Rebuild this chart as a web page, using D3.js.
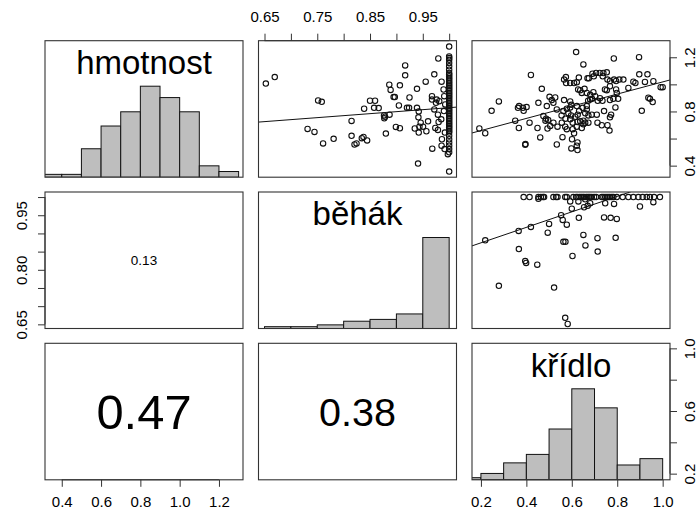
<!DOCTYPE html>
<html>
<head>
<meta charset="utf-8">
<script src="https://cdn.jsdelivr.net/npm/d3@7"></script>
<style>
  body { margin: 0; background: #fff; }
  text { font-family: "Liberation Sans", Arial, sans-serif; fill: #000; }
</style>
</head>
<body>
<div id="chart"></div>
<script>
// ---- data ----
var varNames = ["hmotnost", "běhák", "křídlo"];
var varRanges = [[0.352, 1.285], [0.6525, 1.0], [0.193, 1.0]];

var histBreaks = [
  [0.3, 0.4, 0.5, 0.6, 0.7, 0.8, 0.9, 1.0, 1.1, 1.2, 1.3],
  [0.65, 0.70, 0.75, 0.80, 0.85, 0.90, 0.95, 1.00],
  [0.1, 0.2, 0.3, 0.4, 0.5, 0.6, 0.7, 0.8, 0.9, 1.0]
];
var histCounts = [
  [1, 1, 10, 18, 23, 32, 28, 23, 4, 2],
  [2, 2, 4, 8, 10, 16, 100],
  [1, 3, 8, 12, 24, 43, 34, 7, 10]
];

// tick positions and which of them carry a label
var ticksHmotnost = [0.4, 0.6, 0.8, 1.0, 1.2];
var ticksBehak = [0.65, 0.70, 0.75, 0.80, 0.85, 0.90, 0.95, 1.00];
var ticksKridlo = [0.2, 0.4, 0.6, 0.8, 1.0];
var labelsHmotnostBottom = ["0.4", "0.6", "0.8", "1.0", "1.2"];
var labelsHmotnostRight = ["0.4", "0.8", "1.2"];
var labelsBehakTop = ["0.65", "0.75", "0.85", "0.95"];
var labelsBehakLeft = ["0.65", "0.80", "0.95"];
var labelsKridloBottom = ["0.2", "0.4", "0.6", "0.8", "1.0"];
var labelsKridloRight = ["0.2", "0.6", "1.0"];

// correlations shown in the lower panels
var corLabels = ["0.13", "0.47", "0.38"];

// lm fits [intercept, slope]: hmotnost~běhák, hmotnost~křídlo, běhák~křídlo
var fitLines = [[0.5335, 0.2944], [0.569, 0.449], [0.8315, 0.213]];

// x = běhák, y = hmotnost
var ptsBehakHmot = [
  [0.6525,1.006],[0.6694,1.054],[0.7516,0.881],[0.7585,0.871],[0.7316,0.671],[0.7447,0.649],
  [0.761,0.564],[0.781,0.598],[0.815,0.730],[0.815,0.620],[0.8206,0.556],[0.8244,0.564],
  [0.8344,0.603],[0.8376,0.612],[0.8445,0.586],[0.8388,0.820],[0.850,0.879],[0.8595,0.879],
  [0.8577,0.827],[0.8664,0.825],[0.8765,0.771],[0.877,0.749],[0.8784,0.761],[0.887,0.776],
  [0.880,0.637],[0.899,0.686],[0.9066,0.676],[0.8865,0.998],[0.889,0.959],[0.8947,0.906],
  [0.897,0.906],[0.9066,0.993],[0.9166,1.140],[0.9166,1.067],[0.9047,0.844],[0.920,0.827],
  [0.924,0.827],[0.9248,0.903],[0.939,0.967],[0.939,0.827],[0.9423,0.800],[0.9417,0.757],
  [0.946,0.717],[0.9348,0.674],[0.9423,0.644],[0.9436,0.688],[0.9505,0.688],[0.9568,0.654],
  [0.960,0.727],[0.941,0.415],[0.9555,1.020],[0.9718,1.074],[0.9794,1.191],[0.9674,0.913],
  [0.9674,0.888],[0.9718,0.815],[0.975,0.864],[0.9787,0.776],[0.9762,0.888],[0.9812,0.876],
  [0.9856,1.020],[0.980,0.722],[0.9737,0.678],[0.9787,0.664],[0.968,0.525],[0.985,0.742],
  [0.9863,0.595],[0.9856,0.547],[0.9913,0.522],[0.9919,0.644],[0.9894,0.962],[0.9906,0.913],
  [0.9925,0.852],[0.99,0.803],[0.9975,0.485],
  [1,1.279],[1,1.206],[1,1.194],[1,1.181],[1,1.157],[1,1.133],[1,1.108],[1,1.084],[1,1.072],
  [1,1.059],[1,1.047],[1,1.035],[1,1.022],[1,1.010],[1,0.998],[1,0.986],[1,0.974],[1,0.962],
  [1,0.950],[1,0.937],[1,0.925],[1,0.913],[1,0.901],[1,0.888],[1,0.876],[1,0.864],[1,0.852],
  [1,0.840],[1,0.827],[1,0.815],[1,0.803],[1,0.791],[1,0.779],[1,0.766],[1,0.754],[1,0.742],
  [1,0.730],[1,0.717],[1,0.705],[1,0.693],[1,0.681],[1,0.669],[1,0.656],[1,0.644],[1,0.620],
  [1,0.595],[1,0.571],[1,0.547],[1,0.522],[1,0.498],[1,0.356]
];

// x = křídlo, y = hmotnost
var ptsKridloHmot = [
  [0.619,1.238],[0.785,1.191],[0.896,1.201],[0.651,1.147],[0.420,1.069],[0.574,1.054],
  [0.566,1.035],[0.631,1.050],[0.669,1.045],[0.675,1.045],[0.691,1.079],[0.707,1.084],
  [0.723,1.084],[0.739,1.084],[0.754,1.089],[0.697,1.059],[0.736,1.059],[0.757,1.035],
  [0.768,1.025],[0.786,1.035],[0.795,1.025],[0.809,1.035],[0.827,1.035],[0.871,1.020],
  [0.897,1.074],[0.933,1.074],[0.922,1.018],[0.959,1.023],[0.991,0.979],[1.000,0.979],
  [0.849,0.974],[0.880,1.010],[0.575,1.010],[0.593,1.010],[0.610,1.010],[0.622,1.015],
  [0.628,0.962],[0.637,0.957],[0.656,0.967],[0.644,0.937],[0.666,0.937],[0.681,0.923],
  [0.695,0.942],[0.672,0.879],[0.681,0.888],[0.689,0.893],[0.703,0.913],[0.714,0.879],
  [0.735,0.879],[0.724,0.898],[0.746,0.962],[0.754,0.957],[0.768,0.986],[0.795,0.962],
  [0.798,0.937],[0.783,0.893],[0.768,0.884],[0.468,0.967],[0.512,0.884],[0.502,0.908],
  [0.527,0.903],[0.519,0.864],[0.566,0.884],[0.593,0.874],[0.598,0.849],[0.593,0.830],
  [0.622,0.840],[0.648,0.827],[0.666,0.840],[0.666,0.815],[0.279,0.874],[0.247,0.805],
  [0.368,0.840],[0.363,0.827],[0.385,0.827],[0.388,0.805],[0.401,0.832],[0.453,0.864],
  [0.490,0.840],[0.534,0.815],[0.563,0.803],[0.578,0.820],[0.585,0.786],[0.597,0.771],
  [0.555,0.771],[0.572,0.747],[0.615,0.761],[0.626,0.776],[0.632,0.803],[0.659,0.786],
  [0.673,0.771],[0.688,0.776],[0.710,0.776],[0.742,0.803],[0.773,0.776],[0.768,0.757],
  [0.792,0.830],[0.804,0.893],[0.937,0.901],[0.944,0.893],[0.956,0.869],[0.908,0.805],
  [0.351,0.732],[0.414,0.717],[0.475,0.766],[0.487,0.747],[0.484,0.732],[0.496,0.737],
  [0.505,0.693],[0.519,0.717],[0.556,0.717],[0.537,0.688],[0.571,0.688],[0.593,0.742],
  [0.604,0.717],[0.578,0.669],[0.622,0.688],[0.625,0.722],[0.637,0.727],[0.651,0.732],
  [0.659,0.717],[0.673,0.717],[0.713,0.717],[0.732,0.698],[0.757,0.698],[0.766,0.659],
  [0.644,0.678],[0.651,0.705],[0.367,0.678],[0.449,0.678],[0.493,0.674],[0.193,0.674],
  [0.219,0.639],[0.461,0.608],[0.534,0.556],[0.559,0.610],[0.604,0.669],[0.610,0.639],
  [0.601,0.595],[0.625,0.571],[0.622,0.547],[0.598,0.527],[0.625,0.515],[0.396,0.559],
  [0.395,0.554]
];

// x = křídlo, y = běhák
var ptsKridloBehak = [
  [0.388,1],[0.414,1],[0.453,1],[0.464,1],[0.473,1],[0.478,1],[0.519,1],[0.531,1],[0.537,1],
  [0.571,1],[0.578,1],[0.607,1],[0.619,1],[0.625,1],[0.634,1],[0.641,1],[0.648,1],[0.654,1],
  [0.663,1],[0.669,1],[0.675,1],[0.681,1],[0.688,1],[0.698,1],[0.707,1],[0.732,1],[0.739,1],
  [0.747,1],[0.754,1],[0.761,1],[0.768,1],[0.776,1],[0.783,1],[0.798,1],[0.824,1],[0.849,1],
  [0.871,1],[0.893,1],[0.912,1],[0.930,1],[0.944,1],[0.962,1],[0.988,1],
  [0.453,0.995],[0.593,0.988],[0.629,0.988],[0.659,0.994],[0.681,0.983],[0.747,0.983],
  [0.786,0.981],[0.959,0.986],[0.654,0.972],[0.600,0.968],[0.900,0.974],[0.670,0.976],
  [0.742,0.944],[0.771,0.943],[0.798,0.940],[0.553,0.950],[0.560,0.937],[0.578,0.924],
  [0.631,0.943],[0.500,0.926],[0.420,0.918],[0.366,0.907],[0.219,0.881],[0.494,0.902],
  [0.651,0.896],[0.713,0.887],[0.793,0.888],[0.563,0.877],[0.572,0.877],[0.660,0.867],
  [0.367,0.857],[0.714,0.850],[0.603,0.838],[0.395,0.824],[0.399,0.819],[0.448,0.814],
  [0.279,0.756],[0.522,0.751],[0.571,0.668],[0.582,0.651]
];

// ---- layout ----
var svgWidth = 698;
var svgHeight = 511;
var panelX = [45, 258.5, 472];
var panelY = [40.7, 192, 343.3];
var panelW = 198;
var panelH = 136.5;

var svg = d3.select("#chart")
  .append("svg")
  .attr("width", svgWidth)
  .attr("height", svgHeight);

// one x scale and one y scale per variable, padded 4% like R
function padded(r) {
  var p = (r[1] - r[0]) * 0.04;
  return [r[0] - p, r[1] + p];
}
var xScales = varRanges.map(function(r) {
  return d3.scaleLinear().domain(padded(r)).range([0, panelW]);
});
var yScales = varRanges.map(function(r) {
  return d3.scaleLinear().domain(padded(r)).range([panelH, 0]);
});

function makePanel(i, j) {
  var g = svg.append("g")
    .attr("transform", `translate(${panelX[j]}, ${panelY[i]})`);
  g.append("clipPath")
    .attr("id", `clip-${i}-${j}`)
    .append("rect")
    .attr("width", panelW)
    .attr("height", panelH);
  var inner = g.append("g").attr("clip-path", `url(#clip-${i}-${j})`);
  return { g: g, inner: inner };
}

function drawBox(g) {
  g.append("rect")
    .attr("width", panelW)
    .attr("height", panelH)
    .attr("fill", "none")
    .attr("stroke", "#333")
    .attr("stroke-width", 1.1);
}

// ---- diagonal: histograms + names ----
varNames.forEach(function(name, k) {
  var p = makePanel(k, k);
  var x = xScales[k];
  var hy = d3.scaleLinear().domain([0, 1.5]).range([panelH, 0]);
  var maxC = d3.max(histCounts[k]);
  var bins = histCounts[k].map(function(c, b) {
    return { x0: histBreaks[k][b], x1: histBreaks[k][b + 1], c: c / maxC };
  });
  p.inner.selectAll("rect.bar")
    .data(bins)
    .enter()
    .append("rect")
    .attr("class", "bar")
    .attr("x", d => x(d.x0))
    .attr("width", d => x(d.x1) - x(d.x0))
    .attr("y", d => hy(d.c))
    .attr("height", d => hy(0) - hy(d.c))
    .attr("fill", "#bebebe")
    .attr("stroke", "#111")
    .attr("stroke-width", 1);
  p.g.append("text")
    .attr("x", panelW / 2)
    .attr("y", 33.3)
    .attr("text-anchor", "middle")
    .style("font-size", "33px")
    .text(name);
  drawBox(p.g);
});

// ---- upper: scatter + lm line ----
var upper = [
  { i: 0, j: 1, pts: ptsBehakHmot, fit: fitLines[0] },
  { i: 0, j: 2, pts: ptsKridloHmot, fit: fitLines[1] },
  { i: 1, j: 2, pts: ptsKridloBehak, fit: fitLines[2] }
];
upper.forEach(function(u) {
  var p = makePanel(u.i, u.j);
  var x = xScales[u.j];
  var y = yScales[u.i];
  p.inner.selectAll("circle")
    .data(u.pts)
    .enter()
    .append("circle")
    .attr("cx", d => x(d[0]))
    .attr("cy", d => y(d[1]))
    .attr("r", 2.7)
    .attr("fill", "none")
    .attr("stroke", "#111")
    .attr("stroke-width", 1.1);
  var xd = x.domain();
  p.inner.append("line")
    .attr("x1", x(xd[0]))
    .attr("y1", y(u.fit[0] + u.fit[1] * xd[0]))
    .attr("x2", x(xd[1]))
    .attr("y2", y(u.fit[0] + u.fit[1] * xd[1]))
    .attr("stroke", "#111")
    .attr("stroke-width", 1);
  drawBox(p.g);
});

// ---- lower: correlation text, size proportional to r ----
var lower = [
  { i: 1, j: 0, label: corLabels[0] },
  { i: 2, j: 0, label: corLabels[1] },
  { i: 2, j: 1, label: corLabels[2] }
];
var fontScale = d3.scaleLinear().domain([0, 1]).range([0, 104]);
lower.forEach(function(l) {
  var p = makePanel(l.i, l.j);
  var fs = fontScale(+l.label);
  p.g.append("text")
    .attr("x", panelW / 2)
    .attr("y", panelH / 2 + fs * 0.365)
    .attr("text-anchor", "middle")
    .style("font-size", fs + "px")
    .text(l.label);
  drawBox(p.g);
});

// ---- axes (R style: line spans the ticks only) ----
function drawAxis(side, i, j, scale, ticks, labels) {
  var gx = panelX[j], gy = panelY[i];
  var g = svg.append("g");
  var axis;
  if (side === "top") {
    g.attr("transform", `translate(${gx}, ${gy})`);
    axis = d3.axisTop(scale);
  } else if (side === "bottom") {
    g.attr("transform", `translate(${gx}, ${gy + panelH})`);
    axis = d3.axisBottom(scale);
  } else if (side === "left") {
    g.attr("transform", `translate(${gx}, ${gy})`);
    axis = d3.axisLeft(scale);
  } else {
    g.attr("transform", `translate(${gx + panelW}, ${gy})`);
    axis = d3.axisRight(scale);
  }
  axis.tickValues(ticks)
    .tickSize(7)
    .tickPadding(side === "top" ? 12 : 9.5)
    .tickFormat(function(d) {
      var s = d3.format(side === "top" || side === "left" ? ".2f" : ".1f")(d);
      return labels.indexOf(s) >= 0 ? s : "";
    });
  g.call(axis);
  g.select(".domain").remove();
  g.selectAll(".tick line").attr("stroke", "#333");
  g.selectAll(".tick text")
    .attr("fill", "#000")
    .style("font-size", "15px")
    .style("font-family", "'Liberation Sans', Arial, sans-serif");
  var a = scale(ticks[0]), b = scale(ticks[ticks.length - 1]);
  if (side === "top" || side === "bottom") {
    g.append("line").attr("x1", a).attr("x2", b).attr("y1", 0).attr("y2", 0)
      .attr("stroke", "#333");
  } else {
    g.append("line").attr("y1", a).attr("y2", b).attr("x1", 0).attr("x2", 0)
      .attr("stroke", "#333");
    var off = side === "left" ? -18.5 : 24.5;
    g.selectAll(".tick text")
      .attr("x", null).attr("dy", null).attr("y", null)
      .attr("text-anchor", "middle")
      .attr("transform", `translate(${off}, 0) rotate(-90)`);
  }
}

drawAxis("top", 0, 1, xScales[1], ticksBehak, labelsBehakTop);
drawAxis("bottom", 2, 0, xScales[0], ticksHmotnost, labelsHmotnostBottom);
drawAxis("bottom", 2, 2, xScales[2], ticksKridlo, labelsKridloBottom);
drawAxis("left", 1, 0, yScales[1], ticksBehak, labelsBehakLeft);
drawAxis("right", 0, 2, yScales[0], ticksHmotnost, labelsHmotnostRight);
drawAxis("right", 2, 2, yScales[2], ticksKridlo, labelsKridloRight);
</script>
</body>
</html>
